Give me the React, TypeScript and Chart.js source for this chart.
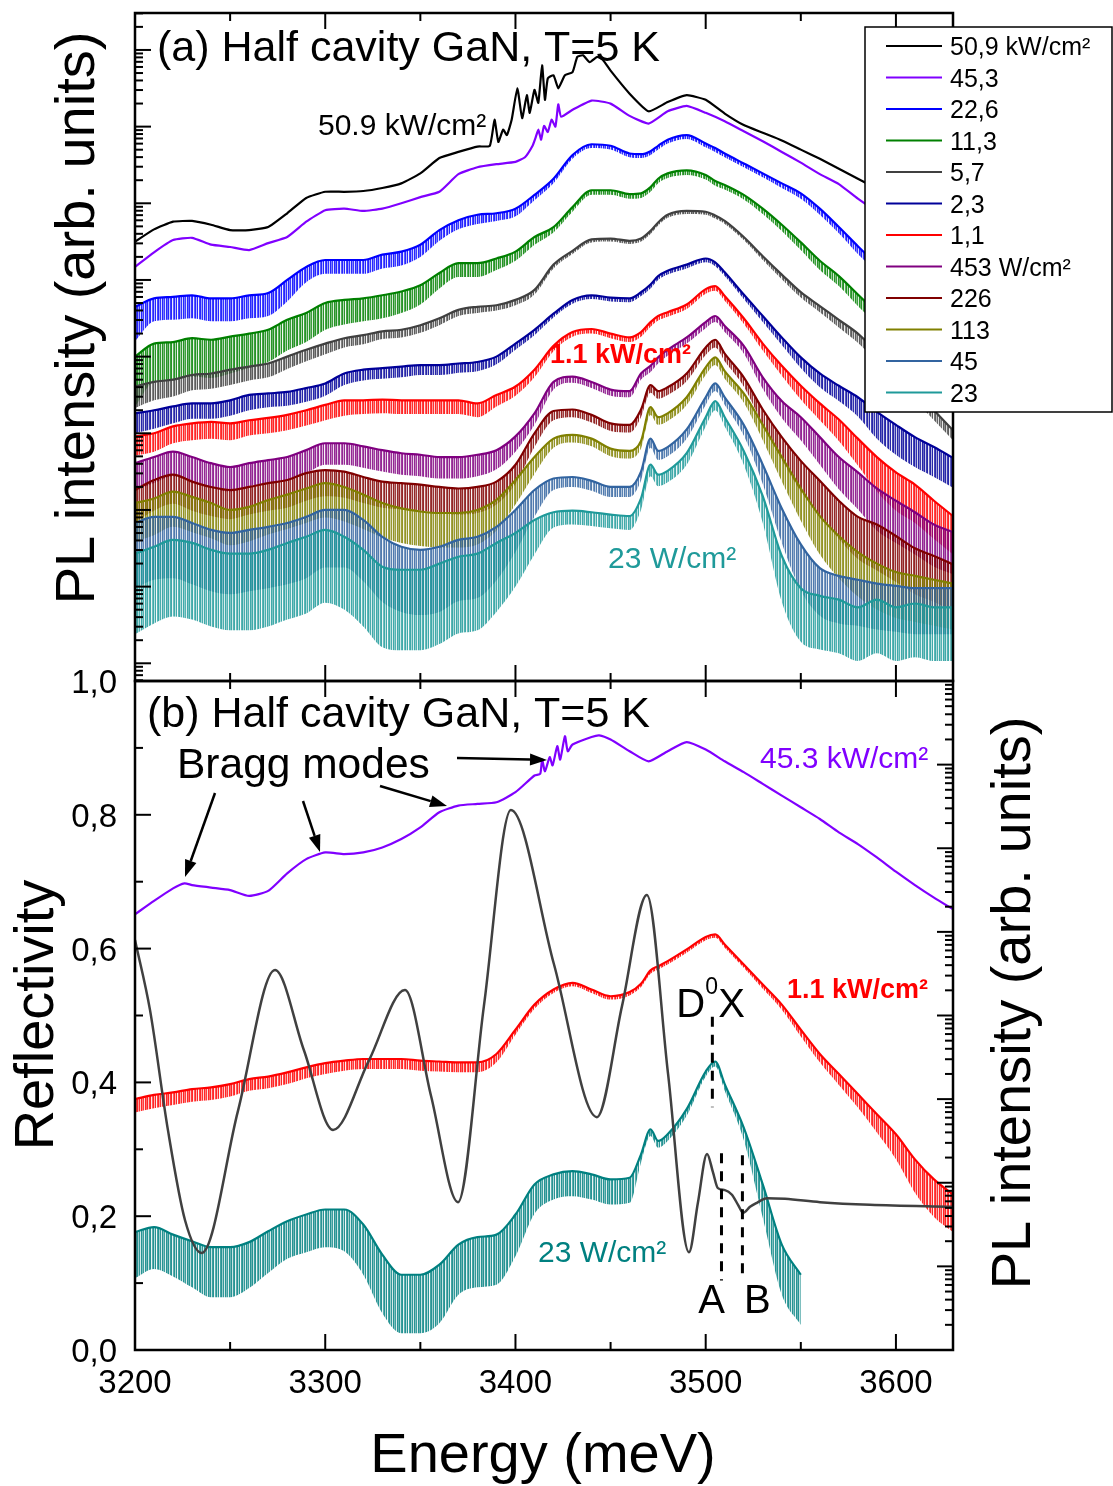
import { useEffect, useRef } from 'react';
import { Chart, registerables } from 'chart.js';

Chart.register(...registerables);

const W = 1113;
const H = 1486;
const FONT = '"Liberation Sans", Arial, Helvetica, sans-serif';

// ---------- axis ticks ----------
const energyTicks = [3200, 3300, 3400, 3500, 3600];
const energyMinorTicks = [3250, 3350, 3450, 3550];
const reflTicks = [0, 0.2, 0.4, 0.6, 0.8, 1.0];
const reflTickLabels = ['0,0', '0,2', '0,4', '0,6', '0,8', '1,0'];
const reflMinorTicks = [0.1, 0.3, 0.5, 0.7, 0.9];

// ---------- panel (a): PL vs excitation density ----------
const legendLabels = ['50,9 kW/cm²', '45,3', '22,6', '11,3', '5,7', '2,3', '1,1', '453 W/cm²', '226', '113', '45', '23'];
const seriesColors = ['#000000', '#8000ff', '#0000ff', '#008000', '#404040', '#000099', '#ff0000', '#800080', '#800000', '#808000', '#3264a0', '#1f9a9a'];

// photon energy grid (meV) shared by the lower-density spectra
const energyGrid = [3200, 3210, 3220, 3230, 3240, 3250, 3260, 3270, 3280, 3290, 3300, 3310, 3320, 3330, 3340, 3350, 3360, 3370, 3380, 3390, 3400, 3410, 3420, 3430, 3440, 3450, 3460, 3466, 3471, 3475, 3480, 3490, 3500, 3505, 3510, 3520, 3530, 3540, 3550, 3560, 3570, 3580, 3590, 3600, 3610, 3620, 3630];

// spectra are stored as log10 of the PL intensity (arb. units)
const pl50_9kW_E = [3200, 3210, 3220, 3230, 3240, 3250, 3260, 3270, 3280, 3290, 3300, 3310, 3320, 3330, 3340, 3350, 3360, 3370, 3380, 3386.5, 3389, 3391, 3393.5, 3395.5, 3398, 3401, 3403.5, 3406, 3407.5, 3410, 3412, 3414, 3415.5, 3417, 3420, 3422.5, 3426, 3430, 3432.5, 3435.5, 3439, 3443, 3446, 3450, 3460, 3470, 3480, 3490, 3500, 3510, 3520, 3530, 3540, 3550, 3560, 3570, 3580, 3590, 3600, 3610, 3620, 3630];
const pl50_9kW = [5.50, 5.66, 5.76, 5.77, 5.72, 5.65, 5.65, 5.69, 5.87, 6.07, 6.15, 6.15, 6.16, 6.20, 6.26, 6.39, 6.59, 6.67, 6.74, 6.75, 7.09, 6.80, 6.96, 6.89, 7.09, 7.50, 7.11, 7.41, 7.18, 7.48, 7.31, 7.80, 7.35, 7.63, 7.67, 7.50, 7.67, 7.71, 7.91, 7.93, 7.84, 7.91, 7.87, 7.73, 7.43, 7.20, 7.32, 7.41, 7.35, 7.17, 7.02, 6.92, 6.82, 6.70, 6.58, 6.45, 6.32, 6.19, 6.07, 5.96, 5.86, 5.76];

const pl45_3kW_E = [3200, 3210, 3220, 3230, 3240, 3250, 3260, 3270, 3280, 3290, 3300, 3310, 3320, 3330, 3340, 3350, 3360, 3370, 3380, 3390, 3400, 3405, 3409, 3410.5, 3412, 3413.5, 3415, 3417, 3419, 3421, 3422.5, 3424, 3430, 3440, 3450, 3460, 3470, 3480, 3490, 3500, 3510, 3520, 3530, 3540, 3550, 3560, 3570, 3580, 3590, 3600, 3610, 3620, 3630];
const pl45_3kW = [5.17, 5.36, 5.52, 5.55, 5.46, 5.43, 5.39, 5.48, 5.56, 5.76, 5.91, 5.93, 5.90, 5.93, 6.00, 6.08, 6.15, 6.38, 6.47, 6.51, 6.54, 6.60, 6.75, 6.85, 6.96, 6.83, 7.01, 6.93, 7.09, 7.00, 7.29, 7.13, 7.22, 7.34, 7.30, 7.14, 7.04, 7.20, 7.27, 7.18, 7.07, 6.94, 6.81, 6.67, 6.53, 6.38, 6.25, 6.06, 5.89, 5.73, 5.57, 5.42, 5.26];

const pl22_6kW = [4.65, 4.76, 4.78, 4.80, 4.76, 4.76, 4.80, 4.83, 5.00, 5.17, 5.26, 5.26, 5.26, 5.33, 5.37, 5.46, 5.65, 5.78, 5.85, 5.87, 5.93, 6.11, 6.32, 6.63, 6.77, 6.75, 6.65, 6.64, 6.68, 6.75, 6.83, 6.89, 6.78, 6.72, 6.65, 6.52, 6.39, 6.26, 6.13, 5.93, 5.69, 5.44, 5.20, 4.96, 4.74, 4.50, 4.28];
const pl11_3kW = [4.00, 4.17, 4.19, 4.24, 4.22, 4.26, 4.30, 4.35, 4.48, 4.57, 4.70, 4.74, 4.76, 4.80, 4.85, 4.93, 5.09, 5.22, 5.22, 5.28, 5.37, 5.56, 5.69, 5.95, 6.17, 6.17, 6.12, 6.13, 6.21, 6.32, 6.39, 6.43, 6.37, 6.29, 6.24, 6.11, 5.93, 5.72, 5.49, 5.25, 5.05, 4.81, 4.57, 4.31, 4.03, 3.73, 3.43];
const pl5_7kW = [3.61, 3.67, 3.70, 3.76, 3.78, 3.83, 3.87, 3.91, 4.00, 4.09, 4.17, 4.24, 4.28, 4.33, 4.35, 4.41, 4.50, 4.61, 4.65, 4.67, 4.74, 4.87, 5.20, 5.38, 5.53, 5.54, 5.51, 5.54, 5.64, 5.75, 5.85, 5.90, 5.89, 5.84, 5.77, 5.56, 5.31, 5.07, 4.84, 4.66, 4.48, 4.30, 4.06, 3.83, 3.56, 3.30, 3.04];
const pl2_3kW = [3.26, 3.30, 3.35, 3.39, 3.39, 3.43, 3.50, 3.52, 3.54, 3.59, 3.65, 3.78, 3.83, 3.85, 3.87, 3.89, 3.89, 3.91, 3.93, 4.00, 4.17, 4.35, 4.56, 4.74, 4.80, 4.77, 4.76, 4.84, 4.94, 5.05, 5.12, 5.20, 5.28, 5.23, 5.10, 4.81, 4.53, 4.25, 3.99, 3.78, 3.62, 3.47, 3.28, 3.11, 2.95, 2.82, 2.68];
const pl1_1kW = [2.96, 3.00, 3.09, 3.13, 3.15, 3.13, 3.17, 3.20, 3.24, 3.30, 3.37, 3.43, 3.43, 3.44, 3.43, 3.43, 3.43, 3.43, 3.39, 3.50, 3.61, 3.83, 4.14, 4.32, 4.36, 4.30, 4.25, 4.32, 4.45, 4.53, 4.58, 4.68, 4.88, 4.92, 4.79, 4.50, 4.17, 3.88, 3.62, 3.39, 3.18, 2.93, 2.69, 2.49, 2.33, 2.12, 1.92];
const pl453W = [2.61, 2.69, 2.76, 2.69, 2.61, 2.56, 2.61, 2.65, 2.69, 2.78, 2.87, 2.87, 2.83, 2.78, 2.74, 2.72, 2.69, 2.69, 2.72, 2.78, 2.96, 3.26, 3.67, 3.74, 3.67, 3.57, 3.55, 3.78, 3.88, 3.99, 4.09, 4.25, 4.45, 4.53, 4.40, 4.14, 3.73, 3.42, 3.21, 2.95, 2.69, 2.49, 2.28, 2.12, 1.97, 1.81, 1.71];
const pl226W = [2.26, 2.39, 2.46, 2.37, 2.30, 2.26, 2.30, 2.35, 2.39, 2.48, 2.52, 2.50, 2.43, 2.37, 2.35, 2.33, 2.30, 2.28, 2.30, 2.37, 2.59, 3.00, 3.29, 3.31, 3.24, 3.13, 3.11, 3.31, 3.63, 3.55, 3.60, 3.78, 4.12, 4.22, 4.04, 3.73, 3.31, 2.95, 2.64, 2.38, 2.12, 1.91, 1.81, 1.66, 1.50, 1.40, 1.29];
const pl113W = [2.09, 2.15, 2.24, 2.17, 2.09, 2.00, 2.04, 2.13, 2.20, 2.28, 2.35, 2.30, 2.20, 2.09, 2.02, 1.98, 1.96, 1.96, 2.00, 2.13, 2.39, 2.69, 2.93, 2.98, 2.93, 2.80, 2.77, 2.90, 3.34, 3.21, 3.26, 3.47, 3.86, 3.99, 3.81, 3.52, 3.11, 2.69, 2.28, 1.92, 1.66, 1.45, 1.30, 1.19, 1.14, 1.09, 1.04];
const pl45W = [1.83, 1.91, 1.91, 1.83, 1.74, 1.70, 1.74, 1.78, 1.83, 1.91, 2.00, 2.00, 1.87, 1.65, 1.52, 1.48, 1.52, 1.61, 1.65, 1.78, 2.00, 2.26, 2.41, 2.43, 2.38, 2.30, 2.30, 2.50, 2.93, 2.77, 2.82, 3.05, 3.47, 3.65, 3.47, 3.11, 2.59, 2.02, 1.55, 1.24, 1.14, 1.09, 1.04, 1.01, 0.98, 0.98, 0.98];
const pl23W = [1.43, 1.52, 1.61, 1.57, 1.48, 1.43, 1.43, 1.48, 1.57, 1.65, 1.74, 1.65, 1.48, 1.26, 1.22, 1.22, 1.30, 1.39, 1.43, 1.57, 1.70, 1.87, 1.97, 1.99, 1.97, 1.94, 1.92, 2.15, 2.59, 2.46, 2.51, 2.74, 3.21, 3.42, 3.21, 2.77, 2.18, 1.40, 0.98, 0.88, 0.83, 0.73, 0.83, 0.73, 0.78, 0.73, 0.73];

// depth of the dense shot-noise band below each spectrum (decades)
const noise22_6kW = [0.45, 0.3, 0.3, 0.3, 0.3, 0.3, 0.3, 0.3, 0.28, 0.2, 0.18, 0.18, 0.18, 0.18, 0.18, 0.16, 0.14, 0.12, 0.12, 0.1, 0.1, 0.07, 0.06, 0.05, 0.05, 0.05, 0.05, 0.05, 0.05, 0.05, 0.05, 0.05, 0.05, 0.05, 0.05, 0.05, 0.05, 0.06, 0.07, 0.08, 0.08, 0.1, 0.1, 0.1, 0.1, 0.1, 0.1];
const noise11_3kW = [0.65, 0.5, 0.5, 0.5, 0.5, 0.48, 0.45, 0.42, 0.4, 0.38, 0.35, 0.32, 0.3, 0.3, 0.28, 0.25, 0.2, 0.18, 0.18, 0.15, 0.12, 0.1, 0.07, 0.06, 0.06, 0.06, 0.06, 0.06, 0.06, 0.06, 0.06, 0.06, 0.06, 0.06, 0.06, 0.06, 0.07, 0.08, 0.1, 0.12, 0.13, 0.15, 0.15, 0.15, 0.15, 0.15, 0.15];
const noise5_7kW = [0.28, 0.24, 0.22, 0.2, 0.2, 0.2, 0.18, 0.18, 0.16, 0.15, 0.14, 0.12, 0.12, 0.1, 0.1, 0.1, 0.09, 0.08, 0.08, 0.07, 0.07, 0.06, 0.05, 0.04, 0.04, 0.04, 0.04, 0.04, 0.04, 0.04, 0.04, 0.04, 0.04, 0.04, 0.04, 0.04, 0.05, 0.06, 0.07, 0.08, 0.1, 0.12, 0.13, 0.13, 0.13, 0.13, 0.13];
const noise2_3kW = [0.26, 0.24, 0.22, 0.2, 0.2, 0.2, 0.2, 0.18, 0.18, 0.18, 0.16, 0.15, 0.14, 0.14, 0.14, 0.13, 0.13, 0.12, 0.12, 0.1, 0.08, 0.07, 0.05, 0.05, 0.05, 0.05, 0.05, 0.05, 0.05, 0.05, 0.05, 0.05, 0.05, 0.05, 0.05, 0.06, 0.08, 0.1, 0.14, 0.18, 0.2, 0.25, 0.35, 0.39, 0.39, 0.39, 0.39];
const noise1_1kW = [0.25, 0.24, 0.22, 0.22, 0.22, 0.22, 0.2, 0.2, 0.2, 0.2, 0.2, 0.2, 0.18, 0.18, 0.18, 0.18, 0.18, 0.18, 0.18, 0.15, 0.12, 0.1, 0.07, 0.06, 0.06, 0.06, 0.06, 0.06, 0.06, 0.06, 0.06, 0.06, 0.06, 0.06, 0.06, 0.07, 0.09, 0.13, 0.18, 0.22, 0.28, 0.35, 0.45, 0.5, 0.5, 0.5, 0.5];
const noise453W = [0.36, 0.34, 0.32, 0.32, 0.32, 0.32, 0.3, 0.3, 0.3, 0.3, 0.28, 0.28, 0.28, 0.28, 0.28, 0.28, 0.28, 0.28, 0.28, 0.25, 0.2, 0.15, 0.1, 0.08, 0.08, 0.08, 0.08, 0.08, 0.08, 0.08, 0.08, 0.08, 0.08, 0.08, 0.08, 0.1, 0.15, 0.22, 0.3, 0.36, 0.42, 0.48, 0.55, 0.55, 0.55, 0.55, 0.55];
const noise226W = [0.42, 0.4, 0.38, 0.38, 0.38, 0.38, 0.36, 0.36, 0.36, 0.36, 0.34, 0.34, 0.34, 0.34, 0.34, 0.34, 0.34, 0.34, 0.34, 0.3, 0.25, 0.18, 0.12, 0.1, 0.1, 0.1, 0.1, 0.1, 0.1, 0.1, 0.1, 0.1, 0.1, 0.1, 0.1, 0.12, 0.2, 0.3, 0.4, 0.45, 0.5, 0.55, 0.6, 0.6, 0.6, 0.6, 0.6];
const noise113W = [0.5, 0.48, 0.46, 0.46, 0.46, 0.46, 0.45, 0.45, 0.45, 0.45, 0.45, 0.45, 0.45, 0.45, 0.45, 0.45, 0.45, 0.45, 0.45, 0.4, 0.32, 0.22, 0.12, 0.1, 0.1, 0.1, 0.1, 0.1, 0.1, 0.1, 0.1, 0.1, 0.1, 0.1, 0.1, 0.12, 0.2, 0.32, 0.42, 0.5, 0.55, 0.58, 0.6, 0.6, 0.6, 0.6, 0.6];
const noise45W = [0.85, 0.82, 0.8, 0.8, 0.8, 0.8, 0.8, 0.8, 0.8, 0.8, 0.75, 0.75, 0.8, 0.85, 0.85, 0.85, 0.85, 0.8, 0.8, 0.7, 0.55, 0.35, 0.15, 0.13, 0.13, 0.13, 0.13, 0.12, 0.12, 0.12, 0.12, 0.12, 0.1, 0.1, 0.1, 0.14, 0.25, 0.45, 0.6, 0.62, 0.62, 0.6, 0.6, 0.6, 0.6, 0.6, 0.6];
const noise23W = [1.05, 1.0, 1.0, 1.0, 1.0, 1.0, 1.0, 1.0, 1.0, 1.0, 0.95, 0.95, 1.0, 1.05, 1.05, 1.05, 1.05, 1.0, 1.0, 0.9, 0.7, 0.45, 0.2, 0.18, 0.18, 0.18, 0.18, 0.15, 0.15, 0.15, 0.15, 0.15, 0.12, 0.12, 0.12, 0.18, 0.35, 0.6, 0.7, 0.7, 0.7, 0.7, 0.7, 0.7, 0.7, 0.7, 0.7];

// ---------- panel (b): reflectivity and three PL spectra ----------
const reflEnergy = [3200, 3207.9, 3217.3, 3226.3, 3235.1, 3254.1, 3273.6, 3288.8, 3304.1, 3323, 3341.9, 3355.6, 3369.8, 3383.4, 3397.6, 3420.2, 3442.8, 3456, 3469.1, 3480.2, 3491.2, 3495.9, 3500.7, 3503.8, 3506.4, 3510.1, 3513.8, 3517, 3519.7, 3523.3, 3526.9, 3532.2, 3541.7, 3560.1, 3586.3, 3630];
const reflectivity = [0.613, 0.508, 0.329, 0.194, 0.145, 0.357, 0.568, 0.448, 0.329, 0.433, 0.538, 0.380, 0.221, 0.514, 0.807, 0.577, 0.348, 0.514, 0.680, 0.413, 0.146, 0.220, 0.293, 0.266, 0.242, 0.239, 0.232, 0.217, 0.205, 0.214, 0.220, 0.227, 0.226, 0.221, 0.217, 0.214];

const plB45_3kW_E = [3200, 3210, 3220, 3226, 3230, 3240, 3250, 3260, 3270, 3280, 3290, 3300, 3310, 3320, 3330, 3340, 3350, 3360, 3370, 3380, 3390, 3400, 3410, 3413, 3414, 3415.5, 3418, 3419.5, 3422, 3423.5, 3426, 3427.5, 3430, 3440, 3444, 3450, 3460, 3470, 3480, 3490, 3500, 3510, 3520, 3530, 3540, 3550, 3560, 3570, 3580, 3590, 3600, 3610, 3620, 3630];
const plB45_3kW = [4.21, 4.37, 4.52, 4.58, 4.56, 4.53, 4.50, 4.43, 4.49, 4.70, 4.87, 4.95, 4.93, 4.95, 5.01, 5.11, 5.25, 5.43, 5.51, 5.53, 5.55, 5.67, 5.87, 5.89, 6.06, 5.92, 6.09, 5.99, 6.22, 6.06, 6.34, 6.16, 6.24, 6.33, 6.35, 6.30, 6.16, 6.04, 6.16, 6.27, 6.18, 6.04, 5.91, 5.77, 5.63, 5.49, 5.35, 5.19, 5.05, 4.89, 4.72, 4.56, 4.41, 4.27];
const plB1_1kW = [2.00, 2.05, 2.08, 2.12, 2.14, 2.18, 2.24, 2.27, 2.32, 2.38, 2.43, 2.46, 2.48, 2.48, 2.48, 2.46, 2.45, 2.44, 2.44, 2.54, 2.83, 3.13, 3.31, 3.39, 3.31, 3.23, 3.28, 3.38, 3.54, 3.59, 3.65, 3.79, 3.94, 3.97, 3.85, 3.61, 3.37, 3.13, 2.83, 2.54, 2.30, 2.06, 1.82, 1.58, 1.28, 1.04, 0.86];
const plB23W = [0.41, 0.47, 0.38, 0.30, 0.23, 0.23, 0.29, 0.42, 0.54, 0.62, 0.68, 0.68, 0.50, 0.14, -0.10, -0.10, 0.02, 0.26, 0.35, 0.38, 0.62, 0.98, 1.10, 1.14, 1.10, 1.04, 1.06, 1.34, 1.64, 1.50, 1.58, 1.88, 2.33, 2.45, 2.18, 1.66, 0.98, 0.26, -0.10, null, null, null, null, null, null, null, null];
const noiseB1_1kW = [0.16, 0.16, 0.15, 0.15, 0.15, 0.15, 0.14, 0.14, 0.14, 0.13, 0.13, 0.12, 0.12, 0.12, 0.12, 0.12, 0.12, 0.12, 0.12, 0.1, 0.06, 0.05, 0.04, 0.04, 0.04, 0.04, 0.04, 0.04, 0.04, 0.04, 0.04, 0.04, 0.04, 0.04, 0.04, 0.04, 0.05, 0.06, 0.08, 0.1, 0.13, 0.16, 0.22, 0.3, 0.4, 0.45, 0.45];
const noiseB23W = [0.55, 0.5, 0.5, 0.55, 0.6, 0.6, 0.55, 0.5, 0.45, 0.45, 0.45, 0.5, 0.6, 0.7, 0.7, 0.7, 0.7, 0.6, 0.6, 0.6, 0.5, 0.35, 0.3, 0.3, 0.3, 0.3, 0.3, 0.1, 0.08, 0.08, 0.08, 0.08, 0.06, 0.06, 0.08, 0.15, 0.4, 0.6, 0.6, null, null, null, null, null, null, null, null];

// exciton features marked in panel (b)
const markerNames = ['D0X', 'A', 'B'];
const markerEnergy = [3503.5, 3508.3, 3519.3];

// stripe opacities of the hatch used to render dense noise bands
const noiseHatch = [1, 0.25, 0.9, 1, 0.1, 0.75, 1, 0.35, 1, 0.05, 0.85, 1, 0.45, 0.95, 0.2, 1, 0.6, 0.9, 0.15, 1, 0.7];

// ---------- helpers ----------
type Val = number | null;

function rgba(hex: string, a: number) {
  const n = parseInt(hex.slice(1), 16);
  return `rgba(${(n >> 16) & 255},${(n >> 8) & 255},${n & 255},${a})`;
}

function hatch(hex: string, strength: number): CanvasPattern | string {
  const c = document.createElement('canvas');
  c.width = noiseHatch.length;
  c.height = 4;
  const g = c.getContext('2d');
  if (!g) return rgba(hex, 0.6);
  noiseHatch.forEach((a, i) => {
    g.fillStyle = rgba(hex, a * strength);
    g.fillRect(i, 0, 1, 4);
  });
  return g.createPattern(c, 'repeat') || rgba(hex, 0.6);
}

const points = (e: number[], v: Val[]) => e.map((x, i) => ({ x, y: v[i] == null ? null : 10 ** (v[i] as number) }));
const floorPoints = (e: number[], v: Val[], d: Val[]) =>
  e.map((x, i) => ({ x, y: v[i] == null || d[i] == null ? null : 10 ** ((v[i] as number) - (d[i] as number)) }));

function seg(ctx: CanvasRenderingContext2D, x1: number, y1: number, x2: number, y2: number) {
  ctx.beginPath();
  ctx.moveTo(x1, y1);
  ctx.lineTo(x2, y2);
  ctx.stroke();
}

function logTicks(min: number, max: number) {
  const out: { v: number; major: boolean }[] = [];
  for (let k = Math.floor(Math.log10(min)); k <= Math.ceil(Math.log10(max)); k++) {
    for (let m = 1; m <= 9; m++) {
      const v = m * 10 ** k;
      if (v >= min && v <= max) out.push({ v, major: m === 1 });
    }
  }
  return out;
}

function label(ctx: CanvasRenderingContext2D, s: string, x: number, y: number, size: number, color = '#000', bold = false, align: CanvasTextAlign = 'left') {
  ctx.font = `${bold ? 'bold ' : ''}${size}px ${FONT}`;
  ctx.fillStyle = color;
  ctx.textAlign = align;
  ctx.textBaseline = 'alphabetic';
  ctx.fillText(s, x, y);
}

function vlabel(ctx: CanvasRenderingContext2D, s: string, baseX: number, cy: number, size: number) {
  ctx.save();
  ctx.translate(baseX, cy);
  ctx.rotate(-Math.PI / 2);
  label(ctx, s, 0, 0, size, '#000', false, 'center');
  ctx.restore();
}

function arrow(ctx: CanvasRenderingContext2D, x1: number, y1: number, x2: number, y2: number) {
  const a = Math.atan2(y2 - y1, x2 - x1);
  const hl = 17;
  const hw = 6;
  const bx = x2 - hl * Math.cos(a);
  const by = y2 - hl * Math.sin(a);
  seg(ctx, x1, y1, bx, by);
  ctx.beginPath();
  ctx.moveTo(x2, y2);
  ctx.lineTo(bx + hw * Math.sin(a), by - hw * Math.cos(a));
  ctx.lineTo(bx - hw * Math.sin(a), by + hw * Math.cos(a));
  ctx.closePath();
  ctx.fill();
}

function energyAxisTicks(ctx: CanvasRenderingContext2D, xs: any, a: any, top: boolean, bottom: boolean) {
  const draw = (e: number, len: number) => {
    const px = xs.getPixelForValue(e);
    if (top) seg(ctx, px, a.top, px, a.top + len);
    if (bottom) seg(ctx, px, a.bottom, px, a.bottom - len);
  };
  energyTicks.forEach((e) => draw(e, 16));
  energyMinorTicks.forEach((e) => draw(e, 8));
}

// ---------- panel (a) chart ----------
const TOP_MIN = 10 ** -0.231;
const TOP_MAX = 10 ** 8.482;

const panelA = [
  { e: pl50_9kW_E, v: pl50_9kW, n: null },
  { e: pl45_3kW_E, v: pl45_3kW, n: null },
  { e: energyGrid, v: pl22_6kW, n: noise22_6kW },
  { e: energyGrid, v: pl11_3kW, n: noise11_3kW },
  { e: energyGrid, v: pl5_7kW, n: noise5_7kW },
  { e: energyGrid, v: pl2_3kW, n: noise2_3kW },
  { e: energyGrid, v: pl1_1kW, n: noise1_1kW },
  { e: energyGrid, v: pl453W, n: noise453W },
  { e: energyGrid, v: pl226W, n: noise226W },
  { e: energyGrid, v: pl113W, n: noise113W },
  { e: energyGrid, v: pl45W, n: noise45W },
  { e: energyGrid, v: pl23W, n: noise23W },
];

function buildTopDatasets() {
  const ds: any[] = [];
  panelA.forEach((s, i) => {
    const color = seriesColors[i];
    const spiky = i < 2;
    ds.push({
      label: legendLabels[i],
      data: points(s.e, s.v),
      borderColor: color,
      backgroundColor: s.n ? hatch(color, 0.85) : color,
      borderWidth: 2.2,
      pointRadius: 0,
      cubicInterpolationMode: spiky ? 'default' : 'monotone',
      tension: spiky ? 0.15 : 0,
      fill: s.n ? '+1' : false,
      order: 100 - 2 * i,
      clip: 0,
    });
    if (s.n) {
      ds.push({
        label: '',
        data: floorPoints(s.e, s.v, s.n),
        borderWidth: 0,
        borderColor: 'rgba(0,0,0,0)',
        pointRadius: 0,
        cubicInterpolationMode: 'monotone',
        fill: false,
        order: 101 - 2 * i,
        clip: 0,
      });
    }
  });
  return ds;
}

const topDecor = {
  id: 'topDecor',
  afterDraw(chart: any) {
    const { ctx, chartArea: a, scales } = chart;
    const xs = scales.x;
    const ys = scales.y;
    ctx.save();
    ctx.strokeStyle = '#000';
    ctx.fillStyle = '#000';
    ctx.lineWidth = 2;
    energyAxisTicks(ctx, xs, a, true, true);
    logTicks(TOP_MIN, TOP_MAX).forEach((t) => {
      const py = ys.getPixelForValue(t.v);
      seg(ctx, a.left, py, a.left + (t.major ? 16 : 8), py);
    });
    ctx.lineWidth = 2.5;
    ctx.strokeRect(a.left, a.top, a.right - a.left, a.bottom - a.top);

    vlabel(ctx, 'PL intensity (arb. units)', 94, 318, 56);
    label(ctx, '(a) Half cavity GaN, T=5 K', 157, 61, 43);
    label(ctx, '50.9 kW/cm²', 318, 135, 30);
    label(ctx, '1.1 kW/cm²', 550, 363, 27, '#ff0000', true);
    label(ctx, '23 W/cm²', 608, 568, 30, seriesColors[11]);

    // legend box
    const lx = 865;
    const ly = 27;
    ctx.fillStyle = '#fff';
    ctx.fillRect(lx, ly, 247, 385);
    ctx.lineWidth = 1.5;
    ctx.strokeStyle = '#000';
    ctx.strokeRect(lx, ly, 247, 385);
    legendLabels.forEach((s, i) => {
      const cy = 46 + 31.5 * i;
      ctx.strokeStyle = seriesColors[i];
      ctx.lineWidth = 2;
      seg(ctx, 886, cy, 942, cy);
      label(ctx, s, 950, cy + 9, 25);
    });
    ctx.restore();
  },
};

// ---------- panel (b) chart ----------
const PLB_MIN = 0.1;
const PLB_MAX = 1e7;

function buildBottomDatasets() {
  return [
    {
      label: 'PL 45.3 kW/cm²',
      data: points(plB45_3kW_E, plB45_3kW),
      yAxisID: 'yPL',
      borderColor: seriesColors[1],
      borderWidth: 2.2,
      pointRadius: 0,
      tension: 0.2,
      fill: false,
      order: 10,
      clip: 0,
    },
    {
      label: 'PL 1.1 kW/cm²',
      data: points(energyGrid, plB1_1kW),
      yAxisID: 'yPL',
      borderColor: '#ff0000',
      backgroundColor: hatch('#ff0000', 0.85),
      borderWidth: 2.2,
      pointRadius: 0,
      cubicInterpolationMode: 'monotone',
      fill: '+1',
      order: 9,
      clip: 0,
    },
    {
      label: '',
      data: floorPoints(energyGrid, plB1_1kW, noiseB1_1kW),
      yAxisID: 'yPL',
      borderWidth: 0,
      borderColor: 'rgba(0,0,0,0)',
      pointRadius: 0,
      cubicInterpolationMode: 'monotone',
      fill: false,
      order: 9.5,
      clip: 0,
    },
    {
      label: 'PL 23 W/cm²',
      data: points(energyGrid, plB23W),
      yAxisID: 'yPL',
      borderColor: '#008080',
      backgroundColor: hatch('#008080', 0.85),
      borderWidth: 2.2,
      pointRadius: 0,
      cubicInterpolationMode: 'monotone',
      fill: '+1',
      order: 8,
      clip: 0,
    },
    {
      label: '',
      data: floorPoints(energyGrid, plB23W, noiseB23W),
      yAxisID: 'yPL',
      borderWidth: 0,
      borderColor: 'rgba(0,0,0,0)',
      pointRadius: 0,
      cubicInterpolationMode: 'monotone',
      fill: false,
      order: 8.5,
      clip: 0,
    },
    {
      label: 'Reflectivity',
      data: reflEnergy.map((x, i) => ({ x, y: reflectivity[i] })),
      yAxisID: 'yR',
      borderColor: '#404040',
      borderWidth: 2.5,
      pointRadius: 0,
      fill: false,
      cubicInterpolationMode: 'monotone',
      order: 1,
      clip: 0,
    },
  ];
}

const bottomDecor = {
  id: 'bottomDecor',
  afterDraw(chart: any) {
    const { ctx, chartArea: a, scales } = chart;
    const xs = scales.x;
    const yr = scales.yR;
    const yp = scales.yPL;
    ctx.save();
    ctx.strokeStyle = '#000';
    ctx.fillStyle = '#000';
    ctx.lineWidth = 2;
    energyAxisTicks(ctx, xs, a, true, true);
    reflTicks.forEach((v) => {
      const py = yr.getPixelForValue(v);
      seg(ctx, a.left, py, a.left + 16, py);
    });
    reflMinorTicks.forEach((v) => {
      const py = yr.getPixelForValue(v);
      seg(ctx, a.left, py, a.left + 8, py);
    });
    logTicks(PLB_MIN, PLB_MAX).forEach((t) => {
      const py = yp.getPixelForValue(t.v);
      seg(ctx, a.right, py, a.right - (t.major ? 16 : 8), py);
    });
    ctx.lineWidth = 2.5;
    ctx.strokeRect(a.left, a.top, a.right - a.left, a.bottom - a.top);

    // tick labels
    energyTicks.forEach((e) => label(ctx, String(e), xs.getPixelForValue(e), a.bottom + 43, 33, '#000', false, 'center'));
    reflTicks.forEach((v, i) => label(ctx, reflTickLabels[i], a.left - 18, yr.getPixelForValue(v) + 12, 33, '#000', false, 'right'));

    // axis titles
    label(ctx, 'Energy (meV)', 543, 1472, 56, '#000', false, 'center');
    vlabel(ctx, 'Reflectivity', 53, 1015, 56);
    vlabel(ctx, 'PL intensity (arb. units)', 1030, 1003, 56);

    // annotations
    label(ctx, '(b) Half cavity GaN, T=5 K', 147, 727, 43);
    label(ctx, 'Bragg modes', 177, 778, 42.5);
    label(ctx, '45.3 kW/cm²', 760, 768, 30, seriesColors[1]);
    label(ctx, '1.1 kW/cm²', 787, 998, 27, '#ff0000', true);
    label(ctx, '23 W/cm²', 538, 1262, 30, '#008080');

    ctx.lineWidth = 2.5;
    ctx.strokeStyle = '#000';
    ctx.fillStyle = '#000';
    arrow(ctx, 215, 793, 185, 877);
    arrow(ctx, 303, 801, 320, 852);
    arrow(ctx, 380, 786, 447, 806);
    arrow(ctx, 457, 758, 547, 760);

    // exciton markers: dashed guides and names
    const spans = [[0.498, 0.363], [0.294, 0.104], [0.291, 0.104]];
    ctx.setLineDash([10, 8]);
    ctx.lineWidth = 3;
    markerEnergy.forEach((e, i) => {
      const px = xs.getPixelForValue(e);
      seg(ctx, px, yr.getPixelForValue(spans[i][0]), px, yr.getPixelForValue(spans[i][1]));
    });
    ctx.setLineDash([]);
    const d0x = xs.getPixelForValue(markerEnergy[0]);
    label(ctx, markerNames[0].charAt(0), d0x - 36, 1017, 40);
    label(ctx, markerNames[0].charAt(1), d0x - 7, 994, 23);
    label(ctx, markerNames[0].charAt(2), d0x + 6, 1017, 40);
    label(ctx, markerNames[1], xs.getPixelForValue(markerEnergy[1]) - 10, 1313, 40, '#000', false, 'center');
    label(ctx, markerNames[2], xs.getPixelForValue(markerEnergy[2]) + 15, 1313, 40, '#000', false, 'center');
    ctx.restore();
  },
};

function baseOptions(padTop: number, padBottom: number, yScales: any) {
  return {
    responsive: false,
    animation: false,
    devicePixelRatio: 1,
    events: [],
    layout: { padding: { left: 135, right: W - 953, top: padTop, bottom: padBottom } },
    plugins: { legend: { display: false }, tooltip: { enabled: false }, title: { display: false } },
    elements: { point: { radius: 0 }, line: { borderJoinStyle: 'round' } },
    scales: {
      x: { type: 'linear', min: 3200, max: 3630, display: false },
      ...yScales,
    },
  };
}

export default function App() {
  const topRef = useRef<HTMLCanvasElement>(null);
  const botRef = useRef<HTMLCanvasElement>(null);

  useEffect(() => {
    const top = new Chart(topRef.current as HTMLCanvasElement, {
      type: 'line',
      data: { datasets: buildTopDatasets() },
      options: baseOptions(13, H - 681, {
        y: { type: 'logarithmic', min: TOP_MIN, max: TOP_MAX, display: false },
      }) as any,
      plugins: [topDecor],
    } as any);
    const bottom = new Chart(botRef.current as HTMLCanvasElement, {
      type: 'line',
      data: { datasets: buildBottomDatasets() as any },
      options: baseOptions(681, H - 1350, {
        yR: { type: 'linear', position: 'left', min: 0, max: 1, display: false },
        yPL: { type: 'logarithmic', position: 'right', min: PLB_MIN, max: PLB_MAX, display: false },
      }) as any,
      plugins: [bottomDecor],
    } as any);
    return () => {
      top.destroy();
      bottom.destroy();
    };
  }, []);

  return (
    <div style={{ position: 'absolute', left: 0, top: 0, width: W, height: H, background: '#fff' }}>
      <canvas ref={topRef} width={W} height={H} style={{ position: 'absolute', left: 0, top: 0 }} />
      <canvas ref={botRef} width={W} height={H} style={{ position: 'absolute', left: 0, top: 0 }} />
    </div>
  );
}
